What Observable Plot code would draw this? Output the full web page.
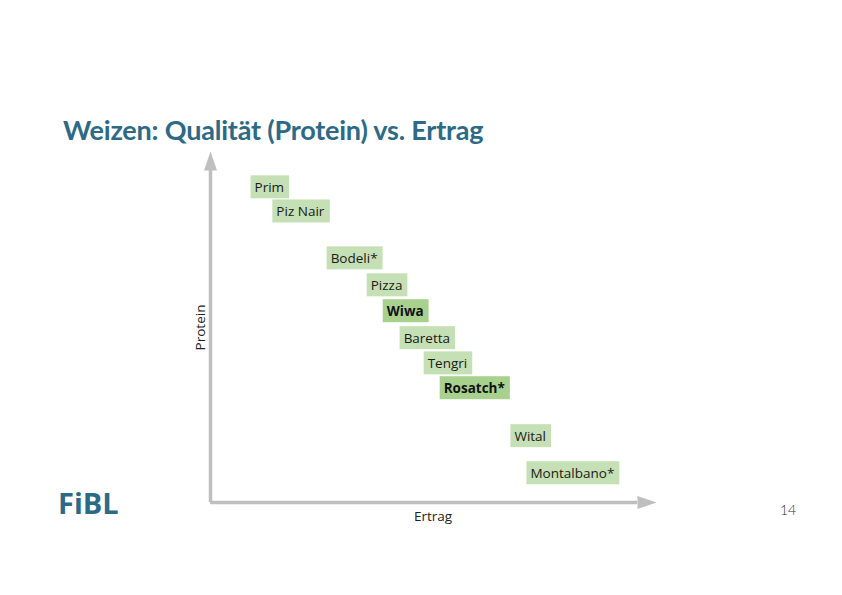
<!DOCTYPE html>
<html><head><meta charset="utf-8">
<script src="https://cdn.jsdelivr.net/npm/d3@7"></script>
<script src="https://cdn.jsdelivr.net/npm/@observablehq/plot@0.6"></script>
<style>
html,body{margin:0;padding:0;background:#fff;width:842px;height:595px;overflow:hidden;position:relative;}
#title{position:absolute;left:63px;top:113px;font-family:Lato,sans-serif;font-weight:bold;font-size:27px;color:#2c6a87;white-space:nowrap;letter-spacing:-0.2px;}
#logo{position:absolute;left:58px;top:483px;font-family:"Open Sans",sans-serif;font-weight:bold;font-size:29px;color:#2c6a87;letter-spacing:0px;}
#page{position:absolute;left:780px;top:501px;font-family:Lato,sans-serif;font-weight:300;font-size:14px;color:#333;}
#chart{position:absolute;left:0;top:0;}
</style></head>
<body>
<div id="chart"></div>
<div id="title">Weizen: Qualität (Protein) vs. Ertrag</div>
<div id="logo">FiBL</div>
<div id="page">14</div>
<script>
const varieties = ["Prim","Piz Nair","Bodeli*","Pizza","Wiwa","Baretta","Tengri","Rosatch*","Wital","Montalbano*"];
const ertrag = [9.0, 13.9, 26.1, 35.1, 38.7, 42.5, 47.9, 51.5, 67.4, 71.0];
const protein = [90.0, 83.1, 69.7, 62.0, 54.6, 46.9, 39.7, 32.6, 18.9, 8.3];
const highlighted = [false,false,false,false,true,false,false,true,false,false];
const xLabel = "Ertrag";
const yLabel = "Protein";

const data = varieties.map((v,i)=>({name:v, x:ertrag[i], y:protein[i], hi:highlighted[i]}));
const normal = data.filter(d=>!d.hi);
const bold = data.filter(d=>d.hi);

// arrow-head symbol: tip at origin, pointing up
const arrowHead = {draw(ctx){ ctx.moveTo(0,-1); ctx.lineTo(6.5,18); ctx.lineTo(-6.5,18); ctx.closePath(); }};

const font = "Open Sans, sans-serif";
const chart = Plot.plot({
  width: 842, height: 595,
  marginLeft: 210, marginRight: 187, marginTop: 152, marginBottom: 93,
  x: {domain:[0,100], axis:null},
  y: {domain:[0,100], axis:null},
  style: {background:"transparent"},
  marks: [
    Plot.ruleY([0], {x1:0, x2:96, stroke:"#bfbfbf", strokeWidth:3.5}),
    Plot.ruleX([0], {y1:0, y2:95, stroke:"#bfbfbf", strokeWidth:3.5}),
    Plot.dot([{x:0,y:100}], {x:"x", y:"y", symbol:arrowHead, fill:"#bfbfbf"}),
    Plot.dot([{x:100,y:0}], {x:"x", y:"y", symbol:arrowHead, fill:"#bfbfbf", rotate:90}),
    Plot.text([xLabel], {x:50, y:0, text:d=>d, dy:14, fontSize:13.5, fontFamily:font, fill:"#222", textAnchor:"middle"}),
    Plot.text([yLabel], {x:0, y:50, text:d=>d, dx:-10, rotate:-90, fontSize:13.5, fontFamily:font, fill:"#222", textAnchor:"middle"}),
    Plot.text(normal, {x:"x", y:"y", text:"name", dx:4, textAnchor:"start", fontSize:13.5, fontFamily:font,
      fill:"#1a1a1a", className:"lbl-n"}),
    Plot.text(bold, {x:"x", y:"y", text:"name", dx:4, textAnchor:"start", fontSize:13.5, fontFamily:font,
      fontWeight:"bold", fill:"#111", className:"lbl-b"})
  ]
});
document.getElementById("chart").appendChild(chart);

function boxes(cls, color) {
  const g = chart.querySelector("." + cls);
  if (!g) return;
  const texts = Array.from(g.querySelectorAll("text"));
  texts.forEach((t)=>{
    const bb = t.getBBox();
    const rect = document.createElementNS("http://www.w3.org/2000/svg","rect");
    rect.setAttribute("x", bb.x - 4);
    rect.setAttribute("y", bb.y + bb.height/2 - 11.5);
    rect.setAttribute("width", bb.width + 9);
    rect.setAttribute("height", 23);
    rect.setAttribute("fill", color);
    const tr = t.getAttribute("transform");
    if (tr) rect.setAttribute("transform", tr);
    g.insertBefore(rect, g.firstChild);
  });
}
boxes("lbl-n", "#c5e0b4");
boxes("lbl-b", "#a9d18e");
</script>
</body></html>
